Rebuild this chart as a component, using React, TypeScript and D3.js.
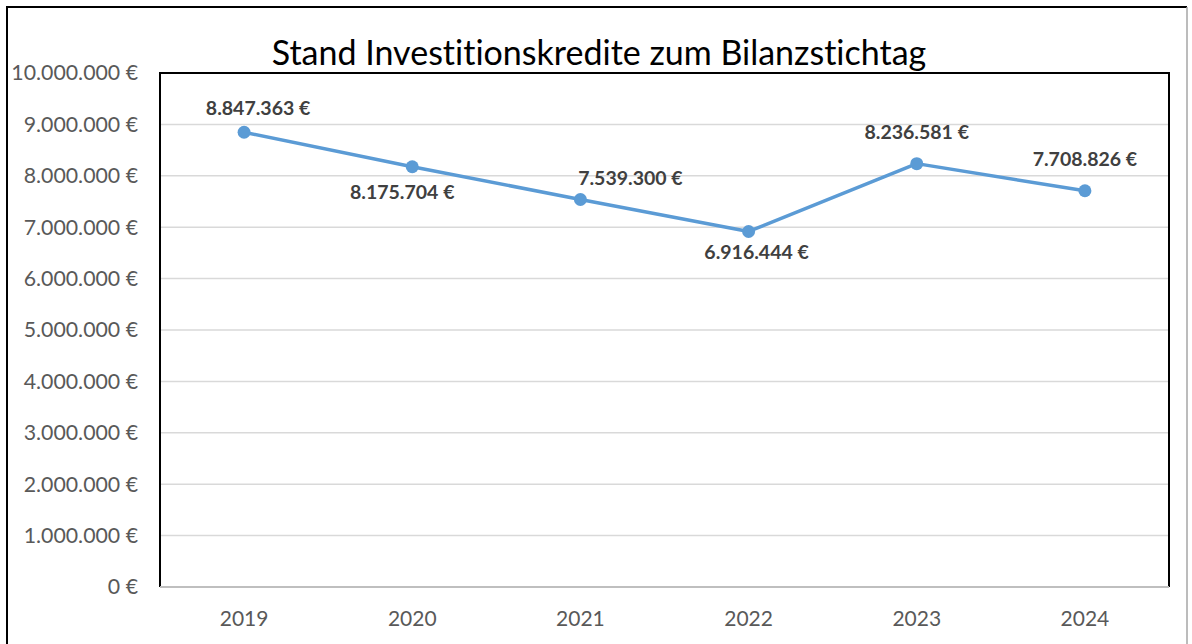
import * as d3 from 'd3';
import { useEffect, useRef } from 'react';

const years = ['2019', '2020', '2021', '2022', '2023', '2024'];
const kredite = [8847363, 8175704, 7539300, 6916444, 8236581, 7708826];
const yTicks = [0, 1000000, 2000000, 3000000, 4000000, 5000000, 6000000, 7000000, 8000000, 9000000, 10000000];
// manual label placement (dx, dy baseline offset from the point)
const labelDx = [14, -10, 50, 8, 0, 0];
const labelDy = [-17, 32, -14, 28, -25, -25];

const title = 'Stand Investitionskredite zum Bilanzstichtag';

const fmt = (v: number) => d3.format(',.0f')(v).replace(/,/g, '.') + ' €';

export default function App() {
  const ref = useRef<SVGSVGElement>(null);

  useEffect(() => {
    const svg = d3.select(ref.current);
    svg.selectAll('*').remove();

    const width = 1192;
    const height = 644;
    const margin = { top: 73, right: 23, bottom: 57, left: 160 };
    const font = 'Lato, Carlito, Calibri, sans-serif';

    svg.append('rect').attr('width', width).attr('height', height).attr('fill', '#fff');

    // outer frame
    svg.append('line').attr('x1', 7).attr('x2', 7).attr('y1', 7).attr('y2', height)
      .attr('stroke', '#000').attr('stroke-width', 2);
    svg.append('line').attr('x1', 6).attr('x2', 1187).attr('y1', 7).attr('y2', 7)
      .attr('stroke', '#000').attr('stroke-width', 2);
    svg.append('line').attr('x1', 1187).attr('x2', 1187).attr('y1', 7).attr('y2', height)
      .attr('stroke', '#a6a6a6').attr('stroke-width', 1.5);

    const x = d3.scalePoint().domain(years).range([margin.left, width - margin.right]).padding(0.5);
    const y = d3.scaleLinear().domain([0, 10000000]).range([height - margin.bottom, margin.top]);

    // gridlines
    svg.append('g')
      .selectAll('line')
      .data(yTicks.slice(1))
      .enter()
      .append('line')
      .attr('x1', margin.left)
      .attr('x2', width - margin.right)
      .attr('y1', d => y(d))
      .attr('y2', d => y(d))
      .attr('stroke', '#d9d9d9')
      .attr('stroke-width', 1.5);

    // plot border (left, top, right black), bottom axis gray
    const top = y(10000000), bottom = y(0);
    svg.append('path')
      .attr('d', `M${margin.left},${bottom}V${top}H${width - margin.right}V${bottom}`)
      .attr('fill', 'none').attr('stroke', '#000').attr('stroke-width', 2);
    svg.append('line')
      .attr('x1', margin.left).attr('x2', width - margin.right)
      .attr('y1', bottom).attr('y2', bottom)
      .attr('stroke', '#bfbfbf').attr('stroke-width', 2);

    // y tick labels
    svg.append('g')
      .selectAll('text')
      .data(yTicks)
      .enter()
      .append('text')
      .attr('x', 138)
      .attr('y', d => y(d))
      .attr('dy', '0.35em')
      .attr('text-anchor', 'end')
      .attr('fill', '#595959')
      .style('font-family', font)
      .style('font-size', '21.3px')
      .text(d => fmt(d));

    // x labels
    svg.append('g')
      .selectAll('text')
      .data(years)
      .enter()
      .append('text')
      .attr('x', d => x(d)!)
      .attr('y', 626)
      .attr('text-anchor', 'middle')
      .attr('fill', '#595959')
      .style('font-family', font)
      .style('font-size', '21px')
      .text(d => d);

    // line
    const line = d3.line<number>()
      .x((d, i) => x(years[i])!)
      .y(d => y(d));
    svg.append('path')
      .datum(kredite)
      .attr('d', line)
      .attr('fill', 'none')
      .attr('stroke', '#5b9bd5')
      .attr('stroke-width', 3.5)
      .attr('stroke-linejoin', 'round');

    svg.append('g')
      .selectAll('circle')
      .data(kredite)
      .enter()
      .append('circle')
      .attr('cx', (d, i) => x(years[i])!)
      .attr('cy', d => y(d))
      .attr('r', 6.5)
      .attr('fill', '#5b9bd5');

    // data labels
    svg.append('g')
      .selectAll('text')
      .data(kredite)
      .enter()
      .append('text')
      .attr('x', (d, i) => x(years[i])! + labelDx[i])
      .attr('y', (d, i) => y(d) + labelDy[i])
      .attr('text-anchor', 'middle')
      .attr('fill', '#404040')
      .style('font-family', font)
      .style('font-size', '19.5px')
      .style('font-weight', 'bold')
      .text(d => fmt(d));

    // title
    svg.append('text')
      .attr('x', 599)
      .attr('y', 65)
      .attr('text-anchor', 'middle')
      .attr('fill', '#000')
      .style('font-family', font)
      .style('font-size', '34px')
      .style('font-variant-ligatures', 'none')
      .text(title);
  }, []);

  return (
    <svg ref={ref} width={1192} height={644} style={{ position: 'absolute', left: 0, top: 0 }} />
  );
}
